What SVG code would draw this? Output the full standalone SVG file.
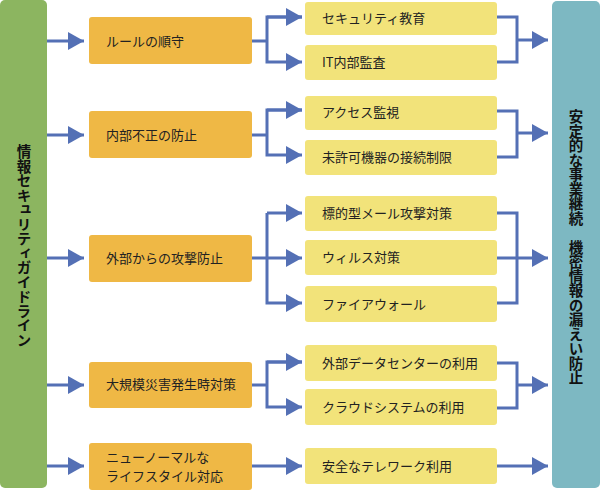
<svg xmlns="http://www.w3.org/2000/svg" width="600" height="491" viewBox="0 0 600 491">
<defs>
<marker id="ah" viewBox="0 0 16 18" refX="16" refY="9" markerWidth="16" markerHeight="18" markerUnits="userSpaceOnUse" orient="auto">
<path d="M0,0 L16,9 L0,18 Z" fill="#5470b5"/>
</marker>
<style>
.t{font-family:"Noto Sans CJK JP","Noto Sans CJK SC",sans-serif;font-size:13px;fill:#222;}
.v{font-family:"Noto Sans CJK JP","Noto Sans CJK SC",sans-serif;font-size:14.5px;font-weight:bold;fill:#111;writing-mode:vertical-rl;text-anchor:middle;}
.or{fill:#efb845;}
.ye{fill:#f2e37a;}
.c{fill:none;stroke:#5470b5;stroke-width:3;}
</style>
</defs>
<rect width="600" height="491" fill="#fff"/>
<g id="guideline">
<rect x="0" y="0" width="47" height="488" rx="5" fill="#8cb560"/>
<text class="v" x="24" y="246">情報セキュリティガイドライン</text>
</g>
<g id="goal">
<rect x="552" y="1" width="48" height="487" rx="5" fill="#7db8c2"/>
<text class="v" x="576" y="247">安定的な事業継続　機密情報の漏えい防止</text>
</g>
<g id="o1"><rect class="or" x="89" y="17" width="163" height="47" rx="3"/><text class="t" x="106" y="46">ルールの順守</text></g>
<g id="o2"><rect class="or" x="89" y="111" width="163" height="47" rx="3"/><text class="t" x="106" y="140">内部不正の防止</text></g>
<g id="o3"><rect class="or" x="89" y="235" width="163" height="47" rx="3"/><text class="t" x="106" y="263">外部からの攻撃防止</text></g>
<g id="o4"><rect class="or" x="89" y="362" width="163" height="46" rx="3"/><text class="t" x="106" y="389">大規模災害発生時対策</text></g>
<g id="o5"><rect class="or" x="89" y="443" width="163" height="47" rx="3"/><text class="t" x="106" y="462">ニューノーマルな</text><text class="t" x="106" y="481">ライフスタイル対応</text></g>
<g id="y1"><rect class="ye" x="305" y="2" width="192" height="33" rx="3"/><text class="t" x="322" y="23">セキュリティ教育</text></g>
<g id="y2"><rect class="ye" x="305" y="45" width="192" height="35" rx="3"/><text class="t" x="322" y="67">IT内部監査</text></g>
<g id="y3"><rect class="ye" x="305" y="96" width="192" height="34" rx="3"/><text class="t" x="322" y="117">アクセス監視</text></g>
<g id="y4"><rect class="ye" x="305" y="140" width="192" height="35" rx="3"/><text class="t" x="322" y="162">未許可機器の接続制限</text></g>
<g id="y5"><rect class="ye" x="305" y="196" width="192" height="35" rx="3"/><text class="t" x="322" y="218">標的型メール攻撃対策</text></g>
<g id="y6"><rect class="ye" x="305" y="240" width="192" height="35" rx="3"/><text class="t" x="322" y="262">ウィルス対策</text></g>
<g id="y7"><rect class="ye" x="305" y="286" width="192" height="36" rx="3"/><text class="t" x="322" y="309">ファイアウォール</text></g>
<g id="y8"><rect class="ye" x="305" y="345" width="192" height="36" rx="3"/><text class="t" x="322" y="368">外部データセンターの利用</text></g>
<g id="y9"><rect class="ye" x="305" y="389" width="192" height="36" rx="3"/><text class="t" x="322" y="412">クラウドシステムの利用</text></g>
<g id="y10"><rect class="ye" x="305" y="448" width="192" height="36" rx="3"/><text class="t" x="322" y="471">安全なテレワーク利用</text></g>
<g id="connectors">
<path class="c" d="M47,41 H84" marker-end="url(#ah)"/>
<path class="c" d="M47,135 H84" marker-end="url(#ah)"/>
<path class="c" d="M47,258 H84" marker-end="url(#ah)"/>
<path class="c" d="M47,385 H84" marker-end="url(#ah)"/>
<path class="c" d="M47,466 H84" marker-end="url(#ah)"/>
<path class="c" d="M252,41 H267"/>
<path class="c" d="M302,17 H267 V62 H302" marker-end="url(#ah)"/>
<path class="c" d="M267,17 H302" marker-end="url(#ah)"/>
<path class="c" d="M252,135 H267"/>
<path class="c" d="M302,110 H267 V155 H302" marker-end="url(#ah)"/>
<path class="c" d="M267,110 H302" marker-end="url(#ah)"/>
<path class="c" d="M252,258 H302" marker-end="url(#ah)"/>
<path class="c" d="M267,213 V303 H302" marker-end="url(#ah)"/>
<path class="c" d="M267,213 H302" marker-end="url(#ah)"/>
<path class="c" d="M252,385 H267"/>
<path class="c" d="M302,362 H267 V407 H302" marker-end="url(#ah)"/>
<path class="c" d="M267,362 H302" marker-end="url(#ah)"/>
<path class="c" d="M252,466 H302" marker-end="url(#ah)"/>
<path class="c" d="M497,17 H517 V62 H497"/>
<path class="c" d="M517,40 H548" marker-end="url(#ah)"/>
<path class="c" d="M497,111 H517 V157 H497"/>
<path class="c" d="M517,133 H548" marker-end="url(#ah)"/>
<path class="c" d="M497,213 H517 V303 H497"/>
<path class="c" d="M497,258 H548" marker-end="url(#ah)"/>
<path class="c" d="M497,363 H517 V408 H497"/>
<path class="c" d="M517,385 H548" marker-end="url(#ah)"/>
<path class="c" d="M497,466 H548" marker-end="url(#ah)"/>
</g>
</svg>
